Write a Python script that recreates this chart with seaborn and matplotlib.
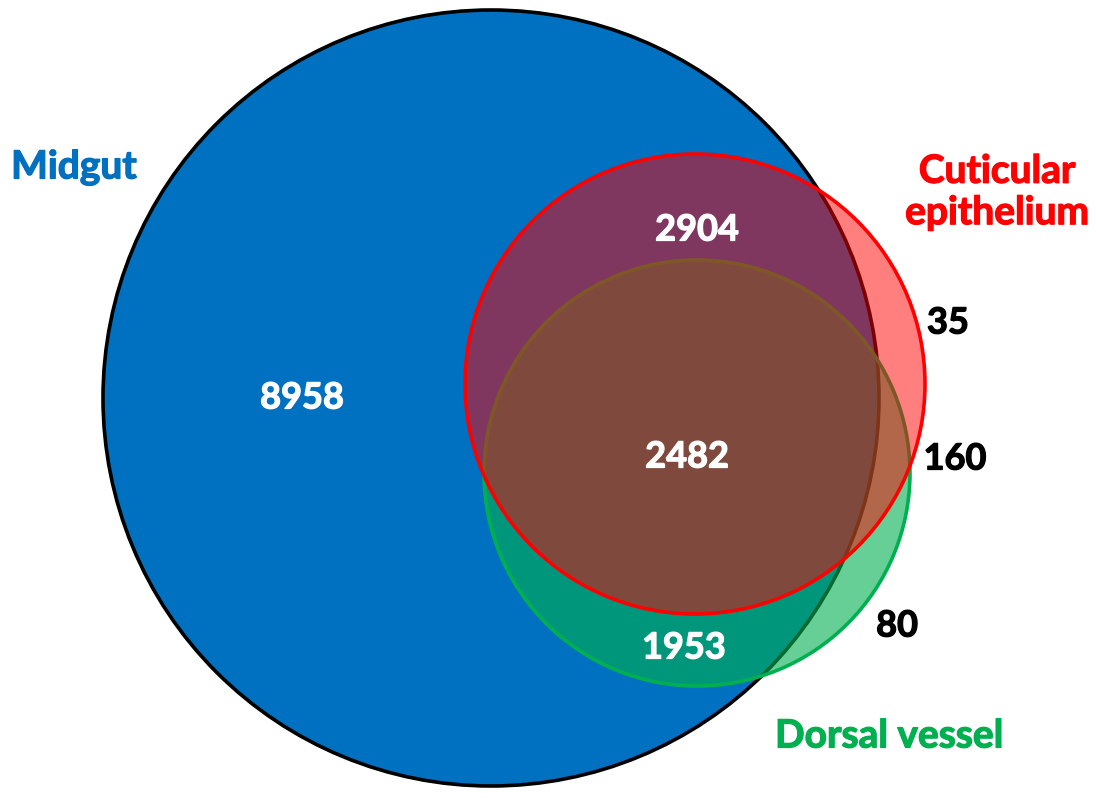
import matplotlib
matplotlib.use("Agg")
import matplotlib.pyplot as plt
import matplotlib.patheffects as pe
from matplotlib.patches import Circle
import seaborn as sns

# ---- data ----
set_names = ["Midgut", "Cuticular\nepithelium", "Dorsal vessel"]
set_colors = ["#0070C0", "#FF0000", "#00B050"]
region_labels = ["Midgut only", "Midgut & Cuticular", "All three",
                 "Midgut & Dorsal", "Cuticular only", "Cuticular & Dorsal", "Dorsal only"]
region_counts = [8958, 2904, 2482, 1953, 35, 160, 80]

# ---- layout (pixel coordinates of the 1096x802 canvas) ----
circles = [  # (cx, cy, r, fill alpha, edge colour)
    (491, 398, 388, 1.0, "#000000"),
    (695, 384, 230, 0.5, "#FF0000"),
    (697, 473, 213, 0.6, "#00B050"),
]
draw_order = [0, 2, 1]   # blue, green, red on top
count_pos = [(302, 398), (697, 230), (687, 457), (684, 648), (948, 323), (955, 459), (897, 626)]
count_color = ["white", "white", "white", "white", "black", "black", "black"]
name_pos = [(74, 167), (997, 192), (889, 736)]

sns.set_theme(style="white")
plt.rcParams["font.family"] = ["Lato", "DejaVu Sans"]

fig = plt.figure(figsize=(10.96, 8.02), dpi=100)
ax = fig.add_axes([0, 0, 1, 1])
ax.set_xlim(0, 1096)
ax.set_ylim(802, 0)
ax.set_aspect("equal")
ax.axis("off")

for k, i in enumerate(draw_order):
    cx, cy, r, a, ec = circles[i]
    ax.add_patch(Circle((cx, cy), r, facecolor=set_colors[i], alpha=a, edgecolor="none", zorder=2 * k + 1))
    ax.add_patch(Circle((cx, cy), r, facecolor="none", edgecolor=ec, linewidth=2.6, zorder=2 * k + 2))

for (x, y), c, col in zip(count_pos, region_counts, count_color):
    ax.text(x, y, str(c), ha="center", va="center", fontsize=26, fontweight="bold", color=col, zorder=20,
            path_effects=[pe.withStroke(linewidth=0.9, foreground=col)])

for (x, y), name, col in zip(name_pos, set_names, set_colors):
    ax.text(x, y, name, ha="center", va="center", fontsize=28, fontweight="bold", color=col,
            linespacing=1.22, zorder=20,
            path_effects=[pe.withStroke(linewidth=0.9, foreground=col)])

fig.savefig("out.png", dpi=100)
